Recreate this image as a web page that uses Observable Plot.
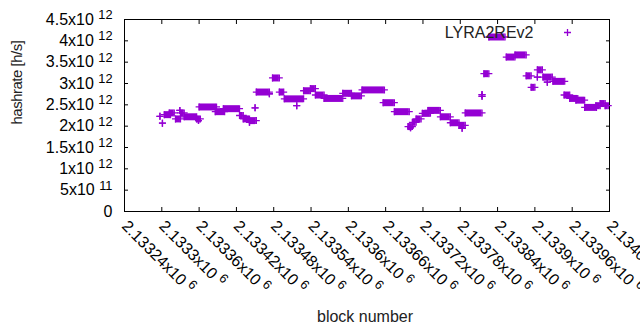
<!DOCTYPE html>
<html><head><meta charset="utf-8">
<script src="https://cdn.jsdelivr.net/npm/d3@7"></script>
<script src="https://cdn.jsdelivr.net/npm/@observablehq/plot@0.6"></script>
<style>body{margin:0;background:#fff}</style>
</head><body><div id="chart"></div>
<script>
const seriesName = "LYRA2REv2";
const xTitle = "block number";
const yTitle = "hashrate [h/s]";
// runs of consecutive blocks at one hashrate: first block, last block, hashrate (H/s)
const runStart = [2133297,2133301,2133304,2133312,2133322,2133329,2133330,2133336,2133356,2133359,2133360,2133386,2133399,2133425,2133431,2133441,2133441,2133450,2133452,2133473,2133478,2133489,2133497,2133517,2133528,2133539,2133547,2133561,2133591,2133605,2133622,2133656,2133674,2133696,2133700,2133703,2133709,2133719,2133728,2133748,2133764,2133778,2133783,2133788,2133815,2133815,2133818,2133826,2133854,2133868,2133886,2133894,2133904,2133904,2133913,2133920,2133929,2133947,2133956,2133966,2133980,2133998,2134005,2134013];
const runEnd   = [2133297,2133301,2133314,2133320,2133330,2133329,2133336,2133356,2133362,2133359,2133388,2133401,2133425,2133431,2133441,2133452,2133441,2133450,2133473,2133473,2133489,2133496,2133528,2133517,2133539,2133547,2133561,2133591,2133605,2133621,2133658,2133674,2133698,2133703,2133700,2133709,2133717,2133732,2133748,2133764,2133778,2133788,2133783,2133815,2133815,2133815,2133826,2133852,2133868,2133886,2133894,2133900,2133912,2133904,2133928,2133920,2133948,2133956,2133969,2133980,2133999,2134005,2134013,2134018];
const runRate  = [2.23e12,2.07e12,2.27e12,2.31e12,2.17e12,2.37e12,2.31e12,2.22e12,2.17e12,2.13e12,2.45e12,2.34e12,2.41e12,2.25e12,2.17e12,2.13e12,2.09e12,2.43e12,2.80e12,2.76e12,3.13e12,2.80e12,2.64e12,2.48e12,2.83e12,2.88e12,2.73e12,2.65e12,2.77e12,2.71e12,2.85e12,2.55e12,2.34e12,1.99e12,1.96e12,2.09e12,2.17e12,2.30e12,2.37e12,2.22e12,2.08e12,2.02e12,1.95e12,2.31e12,2.70e12,2.74e12,3.23e12,4.09e12,3.62e12,3.67e12,3.18e12,2.91e12,3.32e12,3.15e12,3.15e12,3.03e12,3.05e12,2.73e12,2.65e12,2.61e12,2.44e12,2.48e12,2.53e12,2.48e12];
const xTicks = [2133240,2133300,2133360,2133420,2133480,2133540,2133600,2133660,2133720,2133780,2133840,2133900,2133960,2134020];
const yTicks = [0,0.5e12,1e12,1.5e12,2e12,2.5e12,3e12,3.5e12,4e12,4.5e12];

const color = "#9400d3";
const runs = runStart.map((s, i) => ({start: s, end: runEnd[i], rate: runRate[i]}));
const cross = {draw(ctx) { const h = 3.5; ctx.moveTo(-h, 0); ctx.lineTo(h, 0); ctx.moveTo(0, -h); ctx.lineTo(0, h); }};

function sci(d) {
  if (d === 0) return "0";
  const e = Math.floor(Math.log10(d) + 1e-9);
  const m = +(d / Math.pow(10, e)).toFixed(5);
  return m + "x10^" + e;
}
const blank = () => "";

const plot = Plot.plot({
  width: 640, height: 330,
  marginLeft: 124, marginRight: 31, marginTop: 19, marginBottom: 119,
  style: {fontFamily: "'Liberation Sans', Arial, sans-serif", fontSize: "16px", background: "white", color: "black", overflow: "hidden"},
  x: {domain: [xTicks[0], xTicks[xTicks.length - 1]]},
  y: {domain: [yTicks[0], yTicks[yTicks.length - 1]]},
  marks: [
    Plot.axisY({ticks: yTicks, tickSize: 0, tickPadding: 12, tickFormat: sci, label: null}),
    Plot.axisY({ticks: yTicks, anchor: "left", tickSize: -4, tickFormat: blank, label: null}),
    Plot.axisY({ticks: yTicks, anchor: "right", tickSize: -4, tickFormat: blank, label: null}),
    Plot.axisX({ticks: xTicks, tickSize: 0, tickPadding: 12, tickRotate: 45, textAnchor: "start", lineAnchor: "middle", tickFormat: sci, label: null}),
    Plot.axisX({ticks: xTicks, anchor: "bottom", tickSize: -4, tickFormat: blank, label: null}),
    Plot.axisX({ticks: xTicks, anchor: "top", tickSize: -4, tickFormat: blank, label: null}),
    Plot.frame({stroke: "black"}),
    Plot.ruleY(runs, {y: "rate", x1: "start", x2: "end", stroke: color, strokeWidth: 7}),
    Plot.dot(runs, {x: "start", y: "rate", symbol: cross, r: 3.5, stroke: color, fill: "none", strokeWidth: 1.3}),
    Plot.dot(runs, {x: "end", y: "rate", symbol: cross, r: 3.5, stroke: color, fill: "none", strokeWidth: 1.3}),
    Plot.text([seriesName], {frameAnchor: "top-right", dx: -76, dy: 13, textAnchor: "end", lineAnchor: "middle", fill: "#222"}),
    Plot.dot([seriesName], {frameAnchor: "top-right", dx: -42, dy: 13, symbol: cross, r: 3.5, stroke: color, fill: "none", strokeWidth: 1.3}),
    Plot.text([xTitle], {frameAnchor: "bottom", dx: -2, dy: 105, lineAnchor: "middle", fill: "#222"}),
    Plot.text([yTitle], {frameAnchor: "left", dx: -107, dy: 9, rotate: -90, lineAnchor: "middle", fontSize: 15, fill: "#222"})
  ]
});

plot.querySelectorAll("text").forEach(t => {
  const s = t.textContent;
  if (s === yTitle) t.style.letterSpacing = "-0.5px";
  const i = s.indexOf("^");
  if (i < 0) return;
  t.textContent = s.slice(0, i) + " ";
  const sup = document.createElementNS("http://www.w3.org/2000/svg", "tspan");
  sup.setAttribute("dy", "-0.45em");
  sup.setAttribute("font-size", "0.8em");
  sup.textContent = s.slice(i + 1);
  t.appendChild(sup);
});
document.getElementById("chart").appendChild(plot);
</script>
</body></html>
